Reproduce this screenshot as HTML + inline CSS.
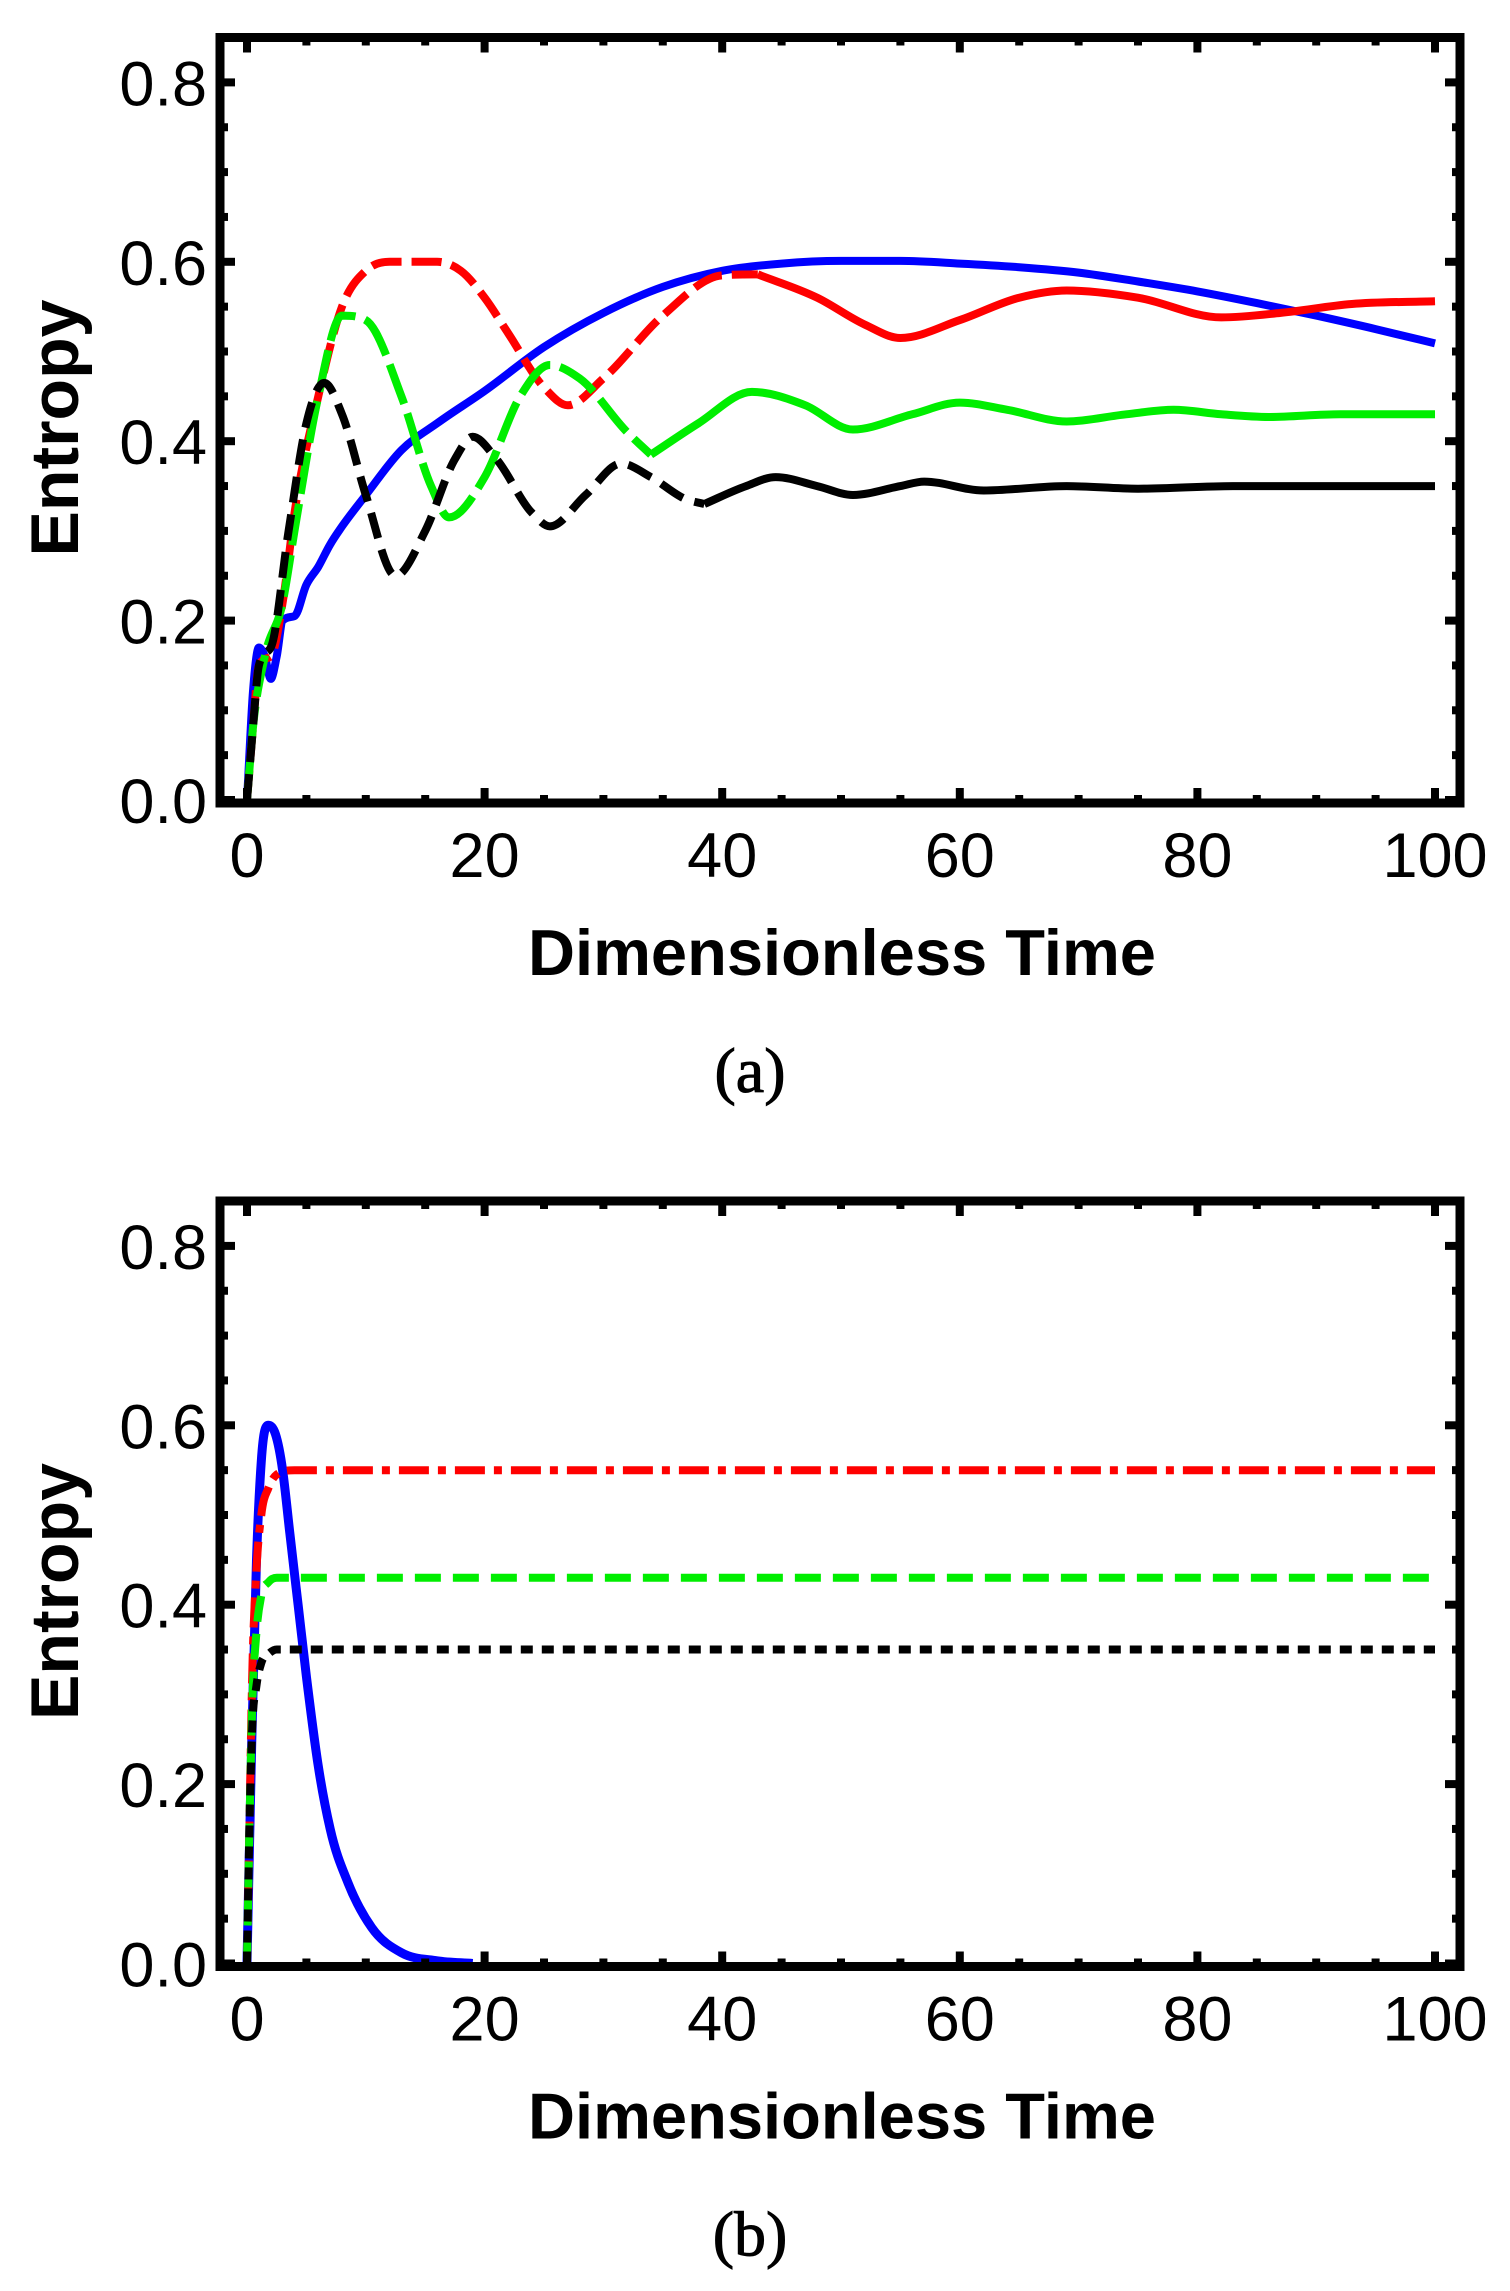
<!DOCTYPE html>
<html><head><meta charset="utf-8"><style>
html,body{margin:0;padding:0;background:#fff;}
svg{display:block;}
</style></head><body>
<svg id="fig" width="1510" height="2291" viewBox="0 0 1510 2291" xmlns="http://www.w3.org/2000/svg"></svg>
<script>
// ---- Panel (a) data ----
const tA_blue = [0,0.5,1,1.5,2,2.5,3,4,5,6,7,8,10,13,16,20,25,30,35,40,45,50,55,60,65,70,75,80,85,90,95,100];
const yA_blue = [0,0.12,0.17,0.16,0.135,0.16,0.2,0.205,0.24,0.26,0.285,0.305,0.34,0.39,0.42,0.456,0.505,0.543,0.572,0.59,0.598,0.601,0.601,0.598,0.594,0.588,0.578,0.567,0.554,0.54,0.525,0.509];
const tA_red = [0,0.5,1,2,3,4,6,8,10,12,14,16,18,20,22,25,27,30,35,40,43,48,52,55,60,65,69,75,82,87,93,100];
const yA_red = [0,0.08,0.15,0.16,0.22,0.32,0.45,0.55,0.59,0.6,0.6,0.6,0.59,0.56,0.52,0.46,0.44,0.47,0.54,0.585,0.586,0.56,0.53,0.515,0.535,0.56,0.568,0.56,0.538,0.543,0.553,0.556];
const tA_green = [0,0.5,1.5,3,4,6,8,10,13,15.5,17,20,23,25.5,28,32,34,38,42.5,47,51,56,60,64,69,74,78,82,86,92,100];
const yA_green = [0,0.08,0.16,0.22,0.3,0.45,0.54,0.535,0.45,0.35,0.315,0.36,0.45,0.485,0.47,0.41,0.385,0.42,0.455,0.44,0.413,0.43,0.443,0.435,0.422,0.43,0.435,0.43,0.427,0.43,0.43];
const tA_black = [0,0.5,1,2,3.5,5,6.5,8,10,12.5,15,17.5,19,21,24,25.5,28.5,31.5,34,37,38.5,42,44.5,48,51,55,57,62,69,75,83,100];
const yA_black = [0,0.08,0.15,0.17,0.3,0.42,0.465,0.43,0.34,0.25,0.3,0.38,0.405,0.38,0.32,0.305,0.34,0.375,0.36,0.335,0.33,0.35,0.36,0.35,0.34,0.35,0.355,0.345,0.35,0.347,0.35,0.35];
// ---- Panel (b) data ----
const tB_blue = [0,0.4,0.8,1.2,1.8,2.4,3,3.6,4.3,5,6,7,8.5,10.5,13,16,19];
const yB_blue = [0,0.25,0.45,0.56,0.6,0.59,0.55,0.48,0.4,0.32,0.22,0.15,0.09,0.04,0.012,0.003,0];
const tB_red = [0,0.2,0.4,0.8,1.2,1.8,2.5,4,100];
const yB_red = [0,0.15,0.3,0.44,0.5,0.53,0.545,0.55,0.55];
const tB_green = [0,0.2,0.4,0.8,1.2,1.8,2.5,100.3];
const yB_green = [0,0.15,0.27,0.37,0.41,0.425,0.43,0.43];
const tB_black = [0,0.2,0.4,0.8,1.2,1.8,2.5,100];
const yB_black = [0,0.15,0.25,0.31,0.335,0.345,0.35,0.35];
const xTicks = [0,20,40,60,80,100];
const yTicks = [0.0,0.2,0.4,0.6,0.8];
const yTickLabels = ["0.0","0.2","0.4","0.6","0.8"];

const NS="http://www.w3.org/2000/svg";
const svg=document.getElementById('fig');
function mk(tag,attrs,parent){const e=document.createElementNS(NS,tag);for(const k in attrs)e.setAttribute(k,attrs[k]);(parent||svg).appendChild(e);return e;}
// monotone cubic (Fritsch-Carlson style) through screen points
function smooth(a){
  const n=a.length;
  if(n<3) return 'M'+a.map(p=>p[0].toFixed(1)+','+p[1].toFixed(1)).join(' L');
  const sl=[];for(let i=0;i<n-1;i++){const dx=a[i+1][0]-a[i][0];sl.push(dx===0?0:(a[i+1][1]-a[i][1])/dx);}
  const m=[];
  for(let i=0;i<n;i++){
    if(i===0) m.push(sl[0]); else if(i===n-1) m.push(sl[n-2]);
    else if(sl[i-1]*sl[i]<=0) m.push(0);
    else { const h0=a[i][0]-a[i-1][0],h1=a[i+1][0]-a[i][0]; m.push((sl[i-1]*h1+sl[i]*h0)/(h0+h1)); }
  }
  for(let i=0;i<n-1;i++){
    if(sl[i]===0){m[i]=0;m[i+1]=0;continue;}
    const al=m[i]/sl[i],be=m[i+1]/sl[i],s=al*al+be*be;
    if(s>9){const t=3/Math.sqrt(s);m[i]=t*al*sl[i];m[i+1]=t*be*sl[i];}
  }
  let d='M'+a[0][0].toFixed(1)+','+a[0][1].toFixed(1);
  for(let i=0;i<n-1;i++){
    const h=(a[i+1][0]-a[i][0])/3;
    d+=' C'+(a[i][0]+h).toFixed(1)+','+(a[i][1]+m[i]*h).toFixed(1)+' '+(a[i+1][0]-h).toFixed(1)+','+(a[i+1][1]-m[i+1]*h).toFixed(1)+' '+a[i+1][0].toFixed(1)+','+a[i+1][1].toFixed(1);
  }
  return d;
}

function panel(off,letter,series){
  const X0=247, XS=11.88, Y0=800+off, YS=897;
  const xs=t=>X0+t*XS, ys=v=>Y0-v*YS;
  const L=220,R=1460,T=37.5+off,B=803+off;
  const g=mk('g',{});
  
  
  const cp=mk('clipPath',{id:'clip'+letter},g);
  mk('rect',{x:L,y:T,width:R-L,height:B-T},cp);
  const sg=mk('g',{'clip-path':'url(#clip'+letter+')'},g);
  series.forEach(s=>{
    const pts=s.t.map((t,i)=>[xs(t),ys(s.y[i])]);
    const split=s.solidFrom;
    let p1=[],p2=[];
    s.t.forEach((t,i)=>{ if(split==null||t<=split) p1.push(pts[i]); if(split!=null&&t>=split) p2.push(pts[i]); });
    const path=mk('path',{d:smooth(p1),fill:'none',stroke:s.color,'stroke-width':s.w,'stroke-linejoin':'round'},sg);
    if(s.dash) path.setAttribute('stroke-dasharray',s.dash);
    
    
    if(p2.length>1){
      const p=mk('path',{d:smooth(p2),fill:'none',stroke:s.color,'stroke-width':s.w,'stroke-linejoin':'round'},sg);
      
      
    }
  });
  const tk=mk('g',{stroke:'#000','stroke-width':8},g);
  
  
  for(let t=0;t<=100;t+=5){
    const major=t%20===0, len=major?15:8, x=xs(t);
    mk('line',{x1:x,y1:B,x2:x,y2:B-len},tk);
    mk('line',{x1:x,y1:T,x2:x,y2:T+len},tk);
  }
  for(let i=0;i<=17;i++){
    const v=i*0.05, major=i%4===0, len=major?15:8, y=ys(v);
    if(y<T+4) continue;
    mk('line',{x1:L,y1:y,x2:L+len,y2:y},tk);
    mk('line',{x1:R,y1:y,x2:R-len,y2:y},tk);
  }
  const fr=mk('rect',{x:L,y:T,width:R-L,height:B-T,fill:'none',stroke:'#000','stroke-width':9},g);
  
  
  xTicks.forEach(t=>{
    const e=mk('text',{x:xs(t),y:Y0+77,'text-anchor':'middle','font-family':'Liberation Sans, sans-serif','font-size':63},g);
    e.textContent=String(t);
    
    
  });
  yTicks.forEach((v,i)=>{
    const e=mk('text',{x:207,y:ys(v)+23,'text-anchor':'end','font-family':'Liberation Sans, sans-serif','font-size':63},g);
    e.textContent=yTickLabels[i];
    
    
  });
  const xt=mk('text',{x:528,y:975+off,'font-family':'Liberation Sans, sans-serif','font-weight':'bold','font-size':65,textLength:628,lengthAdjust:'spacingAndGlyphs'},g);
  xt.textContent='Dimensionless Time';
  
  
  const yt=mk('text',{x:0,y:0,'text-anchor':'middle','font-family':'Liberation Sans, sans-serif','font-weight':'bold','font-size':68,transform:'translate(78,'+(428+off)+') rotate(-90)'},g);
  yt.textContent='Entropy';
  
  
  const cap=mk('text',{x:750,y:1092+off,'text-anchor':'middle','font-family':'Liberation Serif, serif','font-size':64,'stroke':'#000','stroke-width':1},g);
  cap.textContent='('+letter+')';
  
  
}

panel(0,'a',[
  {name:'series-blue',t:tA_blue,y:yA_blue,color:'#0000ff',w:8},
  {name:'series-red',t:tA_red,y:yA_red,color:'#ff0000',w:8,dash:'30 10',solidFrom:43},
  {name:'series-green',t:tA_green,y:yA_green,color:'#00ee00',w:8,dash:'42 10',solidFrom:34},
  {name:'series-black',t:tA_black,y:yA_black,color:'#000000',w:8,dash:'26 12',solidFrom:38.5}
]);
panel(1163.5,'b',[
  {name:'series-blue',t:tB_blue,y:yB_blue,color:'#0000ff',w:9},
  {name:'series-red',t:tB_red,y:yB_red,color:'#ff0000',w:8,dash:'30 9 8 9'},
  {name:'series-green',t:tB_green,y:yB_green,color:'#00ee00',w:8,dash:'26 12'},
  {name:'series-black',t:tB_black,y:yB_black,color:'#000000',w:8,dash:'12 9'}
]);
</script>
</body></html>
